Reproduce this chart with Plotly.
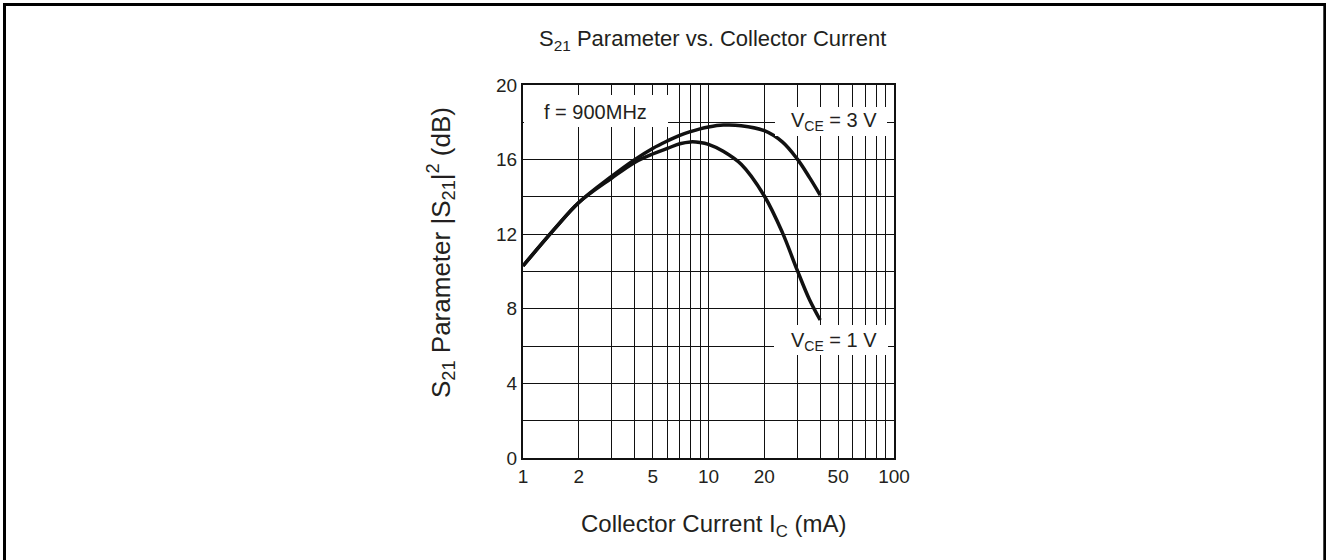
import plotly.graph_objects as go

# ---- data ----
ic_3v = [1, 1.5, 2, 3, 4, 5, 6, 7, 8, 9, 10, 12, 15, 20, 25, 30, 35, 40]
s21_3v = [10.3, 12.35, 13.7, 15.1, 16.0, 16.6, 17.0, 17.3, 17.5, 17.65, 17.75, 17.85,
          17.82, 17.55, 16.95, 16.05, 15.05, 14.1]
ic_1v = [1, 1.5, 2, 3, 4, 5, 6, 7, 8, 9, 10, 12, 15, 20, 25, 30, 35, 40]
s21_1v = [10.3, 12.35, 13.7, 15.0, 15.85, 16.3, 16.6, 16.85, 16.95, 16.92, 16.82, 16.45,
          15.75, 14.05, 12.1, 10.1, 8.5, 7.4]

x_grid = [1, 2, 3, 4, 5, 6, 7, 8, 9, 10, 20, 30, 40, 50, 60, 70, 80, 90, 100]
x_labels = ["1", "2", "", "", "5", "", "", "", "", "10", "20", "", "", "50", "", "", "", "", "100"]
y_grid = [0, 2, 4, 6, 8, 10, 12, 14, 16, 18, 20]
y_labels = ["0", "", "4", "", "8", "", "12", "", "16", "", "20"]

title_text = "S<sub>21</sub> Parameter vs. Collector Current"
x_title = "Collector Current I<sub>C</sub> (mA)"
y_title = "S<sub>21</sub> Parameter |S<sub>21</sub>|<sup>2</sup> (dB)"

W, H = 1326, 560
L, R, T, B = 523, 894, 85, 458
FONT = "Liberation Sans, Arial, Helvetica, sans-serif"
TXT = "#231f20"


def px(xp):
    return (xp - L) / (R - L)


def py(yp):
    return (B - yp) / (B - T)


fig = go.Figure()
fig.add_trace(go.Scatter(x=ic_3v, y=s21_3v, mode="lines", line=dict(color="#111", width=3.5, shape="spline", smoothing=1.0),
                         name="VCE = 3 V", showlegend=False, hoverinfo="skip"))
fig.add_trace(go.Scatter(x=ic_1v, y=s21_1v, mode="lines", line=dict(color="#111", width=3.5, shape="spline", smoothing=1.0),
                         name="VCE = 1 V", showlegend=False, hoverinfo="skip"))

shapes = [
    # outer border (bottom edge off-page)
    dict(type="rect", xref="paper", yref="paper", x0=px(4.5), x1=px(1324.8), y0=py(4.5), y1=py(600),
         line=dict(color="black", width=3), fillcolor="rgba(0,0,0,0)", layer="above"),
    # white label boxes covering the grid
    dict(type="rect", xref="paper", yref="paper", x0=px(524), x1=px(668), y0=py(95), y1=py(127),
         line=dict(width=0), fillcolor="white", layer="above"),
    dict(type="rect", xref="paper", yref="paper", x0=px(775), x1=px(887), y0=py(107), y1=py(136),
         line=dict(width=0), fillcolor="white", layer="above"),
    dict(type="rect", xref="paper", yref="paper", x0=px(774), x1=px(888), y0=py(325), y1=py(355),
         line=dict(width=0), fillcolor="white", layer="above"),
]

ann = [
    dict(text=title_text, x=px(712), y=py(40), font=dict(size=22)),
    dict(text=x_title, x=px(714), y=py(525), font=dict(size=24)),
    dict(text=y_title, x=px(441), y=py(253), textangle=-90, font=dict(size=26)),
    dict(text="f = 900MHz", x=px(595), y=py(112), font=dict(size=20)),
    dict(text="V<sub>CE</sub> = 3 V", x=px(834), y=py(122), font=dict(size=20)),
    dict(text="V<sub>CE</sub> = 1 V", x=px(834), y=py(341), font=dict(size=20)),
]
for a in ann:
    a.update(xref="paper", yref="paper", showarrow=False, xanchor="center", yanchor="middle")
    a["font"].update(family=FONT, color=TXT)

fig.update_layout(
    width=W, height=H, autosize=False,
    margin=dict(l=L, r=W - R, t=T, b=H - B, pad=0),
    paper_bgcolor="white", plot_bgcolor="white",
    font=dict(family=FONT, color=TXT, size=19),
    shapes=shapes, annotations=ann, showlegend=False,
)
fig.update_xaxes(type="log", range=[0, 2], tickvals=x_grid, ticktext=x_labels,
                 showgrid=True, gridcolor="#111", gridwidth=1.2,
                 showline=True, linecolor="#111", linewidth=2, mirror=True,
                 ticks="", zeroline=False, tickfont=dict(size=19))
fig.update_yaxes(range=[0, 20], tickvals=y_grid, ticktext=y_labels,
                 showgrid=True, gridcolor="#111", gridwidth=1.2,
                 showline=True, linecolor="#111", linewidth=2, mirror=True,
                 ticks="", zeroline=False, tickfont=dict(size=19))

fig.write_html("out.html", config={"displayModeBar": False},
               post_script="document.body.style.margin='0';")
